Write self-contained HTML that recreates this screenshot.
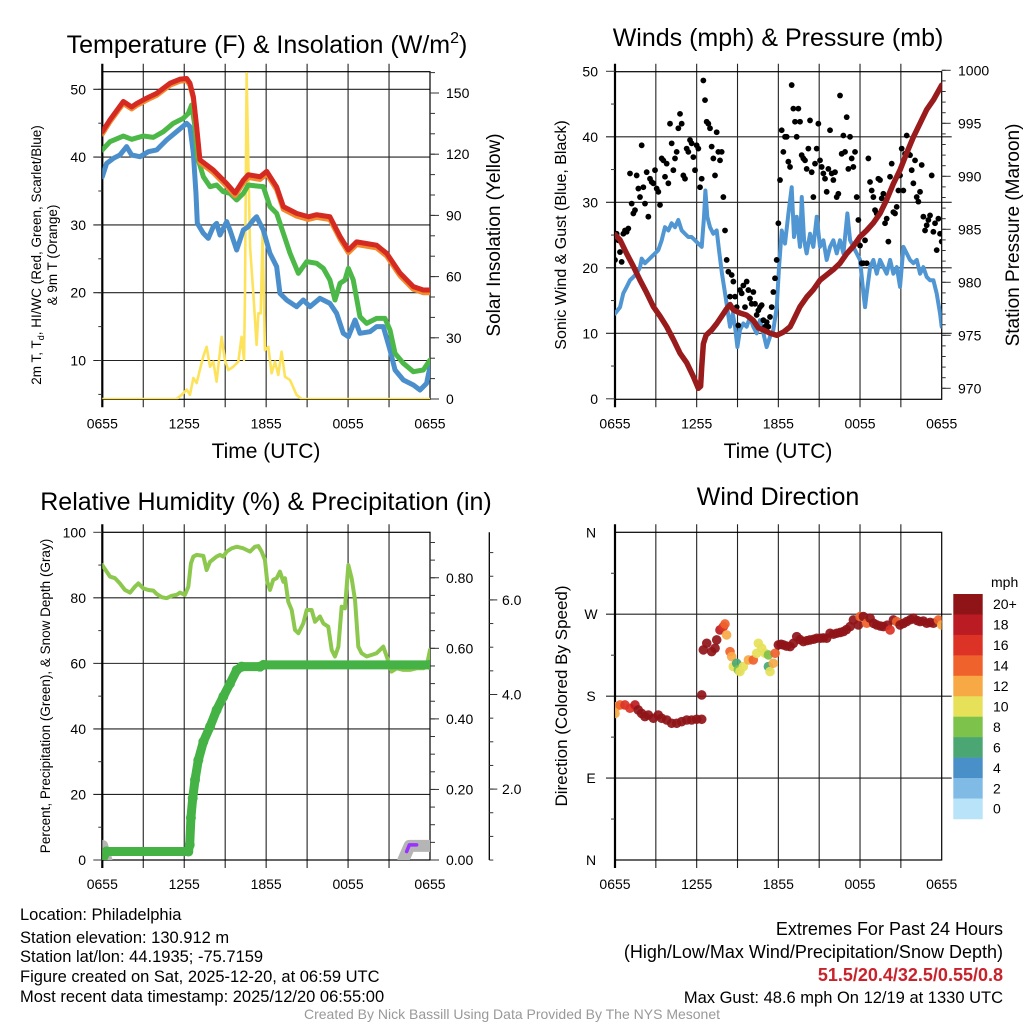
<!DOCTYPE html>
<html><head><meta charset="utf-8"><style>
html,body{margin:0;padding:0;background:#fff;}
svg{display:block;font-family:"Liberation Sans",sans-serif;}
</style></head><body>
<svg id="fig" width="1024" height="1024" viewBox="0 0 1024 1024" xmlns="http://www.w3.org/2000/svg">
<defs>
<clipPath id="c1"><rect x="102.3" y="71.7" width="327.7" height="327.6"/></clipPath>
<clipPath id="c2"><rect x="615" y="71.7" width="326.7" height="327.6"/></clipPath>
<clipPath id="c3"><rect x="102.3" y="532.3" width="327.7" height="327.7"/></clipPath>
<clipPath id="c4"><rect x="615" y="532.3" width="326.7" height="327.7"/></clipPath>
</defs>
<rect x="0" y="0" width="1024" height="1024" fill="#fff"/>
<text x="267" y="53" font-size="25" text-anchor="middle">Temperature (F) &amp; Insolation (W/m<tspan font-size="16" dy="-10">2</tspan><tspan dy="10">)</tspan></text>
<text x="778" y="46" font-size="25" text-anchor="middle">Winds (mph) &amp; Pressure (mb)</text>
<text x="266" y="510" font-size="25" text-anchor="middle">Relative Humidity (%) &amp; Precipitation (in)</text>
<text x="778" y="505" font-size="25" text-anchor="middle">Wind Direction</text>
<text x="266" y="458" font-size="21" text-anchor="middle">Time (UTC)</text>
<text x="778" y="458" font-size="21" text-anchor="middle">Time (UTC)</text>
<text transform="translate(41,255) rotate(-90)" font-size="13.5" text-anchor="middle">2m T, T<tspan font-size="9" dy="3">d</tspan><tspan dy="-3">, HI/WC (Red, Green, Scarlet/Blue)</tspan></text>
<text transform="translate(57,255) rotate(-90)" font-size="13.5" text-anchor="middle">&amp; 9m T (Orange)</text>
<text transform="translate(500,235) rotate(-90)" font-size="19" text-anchor="middle">Solar Insolation (Yellow)</text>
<text transform="translate(566,235) rotate(-90)" font-size="16" text-anchor="middle">Sonic Wind &amp; Gust (Blue, Black)</text>
<text transform="translate(1019,235) rotate(-90)" font-size="19" text-anchor="middle">Station Pressure (Maroon)</text>
<text transform="translate(50,696) rotate(-90)" font-size="13.5" text-anchor="middle">Percent, Precipitation (Green), &amp; Snow Depth (Gray)</text>
<text transform="translate(567,696) rotate(-90)" font-size="17" text-anchor="middle">Direction (Colored By Speed)</text>
<g font-size="16.5">
<text x="20" y="920">Location: Philadelphia</text>
<text x="20" y="943">Station elevation: 130.912 m</text>
<text x="20" y="962">Station lat/lon: 44.1935; -75.7159</text>
<text x="20" y="982">Figure created on Sat, 2025-12-20, at 06:59 UTC</text>
<text x="20" y="1002">Most recent data timestamp: 2025/12/20 06:55:00</text>
</g>
<g text-anchor="end">
<text x="1003" y="935" font-size="18">Extremes For Past 24 Hours</text>
<text x="1003" y="958" font-size="18">(High/Low/Max Wind/Precipitation/Snow Depth)</text>
<text x="1003" y="981" font-size="18" font-weight="bold" fill="#c8232c">51.5/20.4/32.5/0.55/0.8</text>
<text x="1003" y="1003" font-size="16.5">Max Gust: 48.6 mph On 12/19 at 1330 UTC</text>
</g>
<text x="512" y="1019" font-size="14" fill="#999" text-anchor="middle">Created By Nick Bassill Using Data Provided By The NYS Mesonet</text>
<g id="layer"></g>
</svg>
<script>
// ---- data (time in hours since 0655 UTC) ----
const timeLabels = ["0655","1255","1855","0055","0655"];
const tempRed = [[0,43.75],[0.56,45.5],[1.54,48.2],[2.15,47.4],[2.51,47.9],[3.25,48.7],[3.98,49.4],[4.96,50.9],[5.69,51.5],[6.18,51.6],[6.42,50.9],[6.67,48.9],[6.91,44.5],[7.15,39.6],[8.13,38.1],[9.11,36.1],[9.72,34.7],[10.33,36.6],[10.69,37.4],[11.55,37.1],[12.04,37.9],[12.77,35.6],[13.26,32.7],[14.23,31.7],[15.09,31.2],[15.7,31.5],[16.67,31.2],[17.41,28.3],[18.02,26.3],[18.63,27.5],[20.09,27.0],[20.83,25.8],[21.8,22.9],[22.78,20.9],[23.51,20.4],[24,20.4]];
const temp9m = [[0,43.4],[0.56,45.2],[1.54,47.9],[2.15,47.1],[2.51,47.6],[3.25,48.4],[3.98,49.1],[4.96,50.6],[5.69,51.2],[6.18,51.3],[6.42,50.6],[6.67,48.6],[6.91,44.2],[7.15,39.2],[8.13,37.7],[9.11,35.7],[9.72,34.3],[10.33,36.2],[10.69,37.0],[11.55,36.7],[12.04,37.5],[12.77,35.2],[13.26,32.3],[14.23,31.3],[15.09,30.8],[15.7,31.1],[16.67,30.8],[17.41,27.9],[18.02,25.9],[18.63,27.1],[20.09,26.6],[20.83,25.4],[21.8,22.5],[22.78,20.5],[23.51,20.0],[24,20.0]];
const tempGreen = [[0,41.05],[0.56,42.28],[1.54,43.11],[2.15,42.62],[3.0,43.11],[3.74,42.91],[4.47,43.75],[5.2,44.98],[5.93,45.72],[6.3,46.45],[6.54,47.68],[6.79,44.49],[6.96,40.06],[7.4,37.11],[7.89,35.64],[8.37,35.88],[8.86,34.9],[9.35,34.65],[9.84,33.67],[10.33,34.65],[10.69,35.88],[11.3,35.74],[11.79,35.64],[12.28,32.69],[12.77,31.7],[13.26,28.76],[13.75,25.81],[14.36,22.86],[14.97,24.58],[15.7,24.33],[16.19,23.59],[16.67,21.87],[17.04,18.92],[17.41,21.38],[17.77,21.87],[18.02,23.59],[18.38,21.87],[18.87,16.46],[19.36,15.48],[20.09,16.22],[20.7,16.22],[21.07,14.5],[21.44,11.06],[22.05,9.58],[22.78,8.35],[23.51,8.6],[24,10.07]];
const tempBlue = [[0,37.11],[0.32,39.08],[0.81,39.82],[1.29,40.31],[1.78,41.54],[2.15,40.31],[2.76,40.06],[3.37,40.8],[3.98,41.05],[4.71,42.52],[5.44,43.75],[6.18,44.98],[6.42,44.49],[6.67,40.55],[6.86,34.65],[6.96,30.23],[7.4,28.76],[7.76,28.02],[8.13,29.74],[8.37,30.23],[8.62,28.51],[9.11,30.48],[9.35,29.25],[9.84,26.3],[10.33,29.25],[10.69,29.74],[11.06,30.72],[11.3,31.21],[11.79,29.25],[12.28,25.8],[12.77,23.84],[13.01,19.9],[13.5,18.92],[14.23,17.94],[14.72,18.92],[15.21,17.94],[15.94,19.17],[16.67,18.43],[17.16,16.96],[17.65,14.01],[18.02,13.51],[18.51,15.97],[18.87,14.01],[19.6,14.25],[20.09,14.99],[20.58,14.99],[21.07,11.55],[21.44,8.6],[22.05,7.12],[22.78,6.39],[23.27,5.65],[23.75,6.63],[24,9.09]];
const solar = [[0,0],[5.44,0],[5.81,2],[6.18,4.6],[6.42,2],[6.67,10.3],[6.91,7.8],[7.15,14.4],[7.4,21],[7.64,25.6],[7.89,15.8],[8.13,18.3],[8.37,8.5],[8.74,30.5],[8.98,19.1],[9.23,14.2],[9.59,15.8],[9.96,18.3],[10.2,30.5],[10.38,19.1],[10.45,51.8],[10.57,159.6],[10.69,117],[10.82,74.7],[11.06,51.8],[11.3,26.5],[11.43,42],[11.6,42],[11.74,82],[11.91,24],[12.16,25.6],[12.4,12.6],[12.65,18.3],[12.89,11.8],[13.13,23.2],[13.38,10.9],[13.75,9.3],[14.23,2],[14.6,0],[24,0]];
const windSpeed = [[0,13.0],[0.37,14.0],[0.61,16.1],[0.86,17.1],[1.10,18.1],[1.35,18.6],[1.59,19.1],[1.84,20.1],[1.96,21.4],[2.20,20.7],[2.45,21.2],[2.69,21.7],[2.94,22.2],[3.18,22.7],[3.43,24.2],[3.67,26.2],[3.92,25.7],[4.16,26.8],[4.41,26.2],[4.65,27.3],[4.90,25.7],[5.14,25.2],[5.39,24.7],[5.63,24.7],[5.88,24.2],[6.12,23.7],[6.37,23.2],[6.54,27.8],[6.64,31.8],[6.78,27.8],[6.98,26.2],[7.22,25.2],[7.47,25.7],[7.67,22.2],[7.86,19.1],[8.01,17.1],[8.20,14.5],[8.45,11.0],[8.65,13.0],[8.82,11.0],[8.99,7.9],[9.18,10.5],[9.43,11.5],[9.67,11.0],[9.92,12.5],[10.16,11.0],[10.41,10.0],[10.65,12.0],[10.90,10.0],[11.14,7.9],[11.39,9.5],[11.63,10.5],[11.88,14.0],[12.05,20.1],[12.25,25.7],[12.49,23.7],[12.74,28.3],[12.98,32.3],[13.15,24.7],[13.35,27.8],[13.59,23.2],[13.72,30.8],[13.89,24.2],[14.08,22.2],[14.33,25.2],[14.57,23.2],[14.82,27.8],[15.06,23.2],[15.31,24.2],[15.55,21.2],[15.80,23.2],[16.04,24.2],[16.29,22.2],[16.53,24.2],[16.78,22.2],[17.07,28.3],[17.27,24.2],[17.51,23.2],[17.76,22.2],[18.0,21.2],[18.25,16.1],[18.37,14.0],[18.49,16.1],[18.74,20.1],[18.98,21.2],[19.23,19.1],[19.47,21.2],[19.72,20.1],[19.96,19.1],[20.21,21.2],[20.45,19.1],[20.70,20.1],[20.94,17.1],[21.19,23.2],[21.43,22.2],[21.67,21.2],[21.92,20.7],[22.17,21.2],[22.41,19.1],[22.65,20.1],[22.90,18.6],[23.14,18.1],[23.39,18.1],[23.63,16.1],[23.88,13.0],[24.0,11.0]];
const gustValues = [21.2,25.2,24.2,22.4,20.9,25.2,25.7,25.5,26.0,34.4,29.8,28.3,28.8,34.1,32.1,30.8,38.7,32.3,29.8,34.6,27.8,33.6,33.1,32.9,34.9,32.1,31.6,29.6,36.7,36.4,33.9,35.9,32.9,42.0,39.0,34.9,36.7,37.7,41.3,43.5,42.0,34.1,33.6,38.2,37.7,39.5,39.0,36.9,34.9,38.7,38.2,32.3,33.6,48.6,45.6,42.3,42.0,41.3,38.5,36.7,34.1,40.7,37.7,36.4,37.7,30.8,25.7,21.2,19.4,15.6,18.9,17.9,15.6,14.0,11.2,16.6,16.1,17.3,14.0,17.9,16.6,15.3,14.5,16.3,14.5,12.8,13.5,14.0,14.3,12.0,11.0,11.7,11.0,12.5,14.0,16.3,18.4,21.2,26.8,33.4,41.0,37.7,40.0,40.0,36.2,35.4,47.9,44.3,42.3,40.0,44.3,42.3,37.2,36.7,36.4,35.1,38.2,42.5,34.6,30.8,35.9,38.2,42.0,36.4,35.4,34.4,33.6,31.6,35.1,41.0,34.4,33.4,34.6,30.8,31.3,46.3,37.4,40.2,37.7,43.0,35.1,40.0,36.7,35.4,37.7,30.8,27.3,23.4,20.7,20.7,24.2,20.7,36.7,33.1,31.8,30.8,28.8,28.3,33.6,33.4,30.6,31.3,26.8,27.5,24.0,33.9,35.9,28.5,28.3,29.3,31.8,34.1,38.2,31.8,37.4,40.2,37.4,37.2,34.9,32.9,36.4,30.8,30.1,31.6,35.7,27.8,25.7,26.5,27.3,28.0,34.1,25.5,26.8,22.7,27.5,25.2,24.0];
const pressure = [[0,984.5],[0.37,984.0],[0.86,982.7],[1.35,981.5],[1.84,980.2],[2.33,979.0],[2.82,977.7],[3.31,976.8],[3.80,975.8],[4.29,974.6],[4.78,973.3],[5.27,972.4],[5.76,971.1],[6.12,970.0],[6.29,970.2],[6.37,972.0],[6.49,974.2],[6.69,975.0],[7.10,975.5],[7.47,976.1],[7.84,976.8],[8.20,977.5],[8.45,977.9],[8.69,977.4],[9.18,977.1],[9.67,976.9],[10.16,976.4],[10.53,975.7],[10.90,975.5],[11.39,975.2],[11.88,975.0],[12.37,975.3],[12.86,975.8],[13.10,976.4],[13.59,977.7],[14.08,978.6],[14.57,979.3],[15.06,980.2],[15.55,980.7],[16.04,981.2],[16.53,981.8],[17.02,982.7],[17.51,983.4],[18.0,984.3],[18.49,984.9],[18.98,985.6],[19.47,986.5],[19.96,987.8],[20.45,989.3],[20.94,990.6],[21.43,992.2],[21.92,993.7],[22.41,995.0],[22.90,996.3],[23.39,997.2],[24.0,998.6]];
const relHum = [[0,90.0],[0.32,88.0],[0.56,86.5],[0.93,86.0],[1.29,84.4],[1.66,82.4],[2.03,81.6],[2.39,83.4],[2.64,84.4],[3.0,82.9],[3.37,82.4],[3.74,82.2],[3.98,81.2],[4.35,80.2],[4.71,79.9],[5.08,80.6],[5.44,80.9],[5.69,81.6],[6.05,80.9],[6.30,83.4],[6.49,90.5],[6.67,92.6],[6.91,93.1],[7.40,92.8],[7.64,88.5],[7.89,91.0],[8.37,92.6],[8.62,93.1],[8.86,92.6],[9.11,94.1],[9.47,95.1],[9.84,95.6],[10.33,95.1],[10.82,94.1],[11.18,95.6],[11.43,95.8],[11.67,94.1],[11.91,91.6],[12.08,84.9],[12.28,82.4],[12.52,85.5],[12.77,86.0],[13.01,88.0],[13.26,84.9],[13.38,86.0],[13.62,78.8],[13.87,76.3],[14.11,70.2],[14.36,69.2],[14.72,72.2],[14.97,76.3],[15.33,76.3],[15.58,72.7],[15.94,74.3],[16.19,72.2],[16.55,71.2],[16.80,64.1],[17.04,62.1],[17.29,65.1],[17.53,77.3],[17.77,76.8],[18.02,90.0],[18.26,86.0],[18.51,79.3],[18.75,65.1],[18.99,63.1],[19.36,62.1],[19.73,62.6],[20.09,63.1],[20.58,65.1],[20.83,62.1],[21.19,57.5],[21.56,58.5],[22.05,58.0],[22.53,58.0],[23.02,58.5],[23.51,58.5],[23.75,59.0],[24.0,64.1]];
const precip = [[0,0.0],[0.3,0.024],[6.3,0.024],[6.4,0.043],[6.49,0.12],[6.62,0.175],[6.79,0.227],[7.03,0.283],[7.4,0.335],[7.89,0.378],[8.37,0.425],[8.86,0.463],[9.35,0.50],[9.84,0.538],[10.2,0.548],[11.55,0.548],[11.8,0.553],[24,0.553]];
const snowStart = [[0,0.8],[0.3,0.5]];
const snowEnd = [[22.05,0.5],[22.5,0.8],[24,0.8]];
const purpleTrace = [[22.29,0.024],[22.49,0.043],[23.02,0.043]];
const dirTimes = [0,0.12,0.37,0.73,1.10,1.47,1.71,1.96,2.20,2.45,2.82,3.18,3.43,3.80,4.16,4.53,4.90,5.27,5.63,6.0,6.37,6.37,6.49,6.74,7.10,7.35,7.47,7.71,7.96,8.08,8.20,8.45,8.57,8.69,8.94,9.06,9.18,9.43,9.80,10.16,10.41,10.53,10.78,11.02,11.27,11.27,11.39,11.63,11.76,12.0,12.2,12.37,12.6,12.86,13.1,13.35,13.6,13.84,14.1,14.33,14.6,14.82,15.1,15.31,15.55,15.80,16.05,16.29,16.55,16.78,17.0,17.27,17.51,17.88,18.0,18.25,18.49,18.74,19.0,19.23,19.5,19.72,20.0,20.21,20.45,20.70,20.94,21.2,21.43,21.7,21.92,22.2,22.41,22.65,22.90,23.15,23.39,23.76,24.0];
const dirDegrees = [161,168.5,170.3,170.3,166.7,170.3,164.8,161,157.5,159.3,155.7,159.3,155.7,153.8,150.2,150.2,152,153.8,153.8,154.6,154.6,181.3,230.8,238.1,228.9,232.6,241.8,252.7,256.4,259.3,247.3,228.9,223.4,212.5,216.1,208.8,207,212.5,219.8,219.8,227.1,238.1,232.6,227.1,225.3,212.5,207,216.1,227.1,236.3,237,236.3,235,234.4,238,245.4,242,239.9,241,241.8,242.5,243.6,243.6,244,243.6,249.1,248,249.1,250,250.9,253,256.4,263.7,258.2,267.4,267.4,260.1,265.6,260,258.2,257,256.4,258,252.7,263.7,261.9,258.2,260,261.9,264,265.6,263,261.9,262.5,260.1,261,260.1,263.7,258.2];
const dirSpeeds = [13,13,15,17,17,19,22,22,22,22,22,22,22,22,22,22,22,22,22,22,22,22,22,22,22,22,22,19,17,15,13,15,13,11,7,9,11,11,13,15,11,11,11,11,9,7,11,13,15,22,22,22,22,22,22,22,22,22,22,22,22,22,22,22,22,22,22,22,22,22,22,22,22,22,15,22,15,22,22,22,22,22,22,17,22,15,22,22,22,22,22,22,22,22,22,22,22,15,13];
const cbLabels = ["20+","18","16","14","12","10","8","6","4","2","0"];
const cbColors = ["#8f1418","#bb1b22","#dc3326","#f0622b","#f7a946","#e6e159","#7dc24b","#4aa773","#4a90c8","#7fbbe5","#b8e3f8"];

// ---- axis functions ----
const P1={l:102.3,r:430,t:71.7,b:399.3};
const P2={l:615,r:941.7,t:71.7,b:399.3};
const P3={l:102.3,r:430,t:532.3,b:860};
const P4={l:615,r:941.7,t:532.3,b:860};
const xa=P=>t=>P.l+t*(P.r-P.l)/24;
const x1=xa(P1),x2=xa(P2),x3=xa(P3),x4=xa(P4);
const yT=v=>89.3+(50-v)*6.78;
const yS=w=>399-w*2.04;
const yW=v=>398.8-v*6.55;
const yP=m=>388.3-(m-970)*10.6;
const yRH=r=>860-r*3.277;
const yPr=p=>860-p*352.8;
const ySn=s=>883.7-s*47.3;
const yD=d=>860-d*327.7/360;

const NS="http://www.w3.org/2000/svg";
const layer=document.getElementById('layer');
function mk(tag,attrs,parent){const e=document.createElementNS(NS,tag);for(const k in attrs)e.setAttribute(k,attrs[k]);(parent||layer).appendChild(e);return e;}
function pathOf(data,fx,fy){return data.map((d,i)=>(i?'L':'M')+fx(d[0]).toFixed(2)+','+fy(d[1]).toFixed(2)).join('');}
function speedColor(s){let i=Math.floor(s/2);if(i>10)i=10;return cbColors[10-i];}

// ---- grids & frames ----
function frame(P,name,hgrid){
  const g=mk('g',{});
  
  
  for(let k=1;k<8;k++){const x=P.l+k*(P.r-P.l)/8;
    const ln=mk('line',{x1:x,y1:P.t-8,x2:x,y2:P.b+8,stroke:'#222','stroke-width':1.1},g);
    
    }
  hgrid.forEach(y=>{const ln=mk('line',{x1:P.l-9,y1:y,x2:P.r+(name==='wind'||name==='direction'?10:0),y2:y,stroke:'#222','stroke-width':1.1},g);
    
    });
  const bx=mk('rect',{x:P.l,y:P.t,width:P.r-P.l,height:P.b-P.t,fill:'none',stroke:'#000','stroke-width':1.2},g);
  
  
  const la=mk('line',{x1:P.l,y1:P.t-8,x2:P.l,y2:P.b+8,stroke:'#000','stroke-width':2.2},g);
  
  
  timeLabels.forEach((lb,i)=>{const t=mk('text',{x:P.l+i*(P.r-P.l)/4,y:P.b+29,'font-size':14,'text-anchor':'middle'},g);t.textContent=lb;
    
    });
}
function ticks(x,dir,vals,fy,len,labels,fmt,name,lx){
  vals.forEach(v=>{const y=fy(v);const l=mk('line',{x1:x,y1:y,x2:x+dir*len,y2:y,stroke:'#333','stroke-width':1});
    
    });
  labels.forEach(v=>{const t=mk('text',{x:lx,y:fy(v)+5,'font-size':14,'text-anchor':dir<0?'end':'start'});t.textContent=fmt(v);
    
    });
}
frame(P1,'temp',[10,20,30,40,50].map(yT));
frame(P2,'wind',[10,20,30,40].map(yW));
frame(P3,'humidity',[20,40,60,80].map(yRH));
frame(P4,'direction',[90,180,270].map(yD));
const r5=(a,b,s)=>{const o=[];for(let v=a;v<=b+1e-9;v+=s)o.push(+v.toFixed(3));return o;};
ticks(P1.l,-1,r5(5,50,5),yT,4,[],String,'temp-left-minor',0);
ticks(P1.l,-1,[],yT,0,[10,20,30,40,50],String,'temp-left',86);
ticks(P1.r,1,r5(0,160,10),yS,5,[],String,'solar-minor',0);
ticks(P1.r,1,r5(0,150,30),yS,9,[0,30,60,90,120,150],String,'solar',446);
ticks(P2.l,-1,r5(5,45,10),yW,4,[],String,'wind-minor',0);
ticks(P2.l,-1,[0,50],yW,9,[0,10,20,30,40,50],String,'wind-left',598);
ticks(P2.r,1,r5(970,1000,1),yP,4,[],String,'pressure-minor',0);
ticks(P2.r,1,r5(970,1000,5),yP,9,r5(970,1000,5),String,'pressure',958);
ticks(P3.l,-1,r5(10,90,20),yRH,4,[],String,'humidity-minor',0);
ticks(P3.l,-1,[0,100],yRH,9,[0,20,40,60,80,100],String,'humidity-left',86);
ticks(P3.r,1,r5(0,0.9,0.05),yPr,5,[],String,'precip-minor',0);
ticks(P3.r,1,r5(0,0.8,0.2),yPr,9,r5(0,0.8,0.2),v=>v.toFixed(2),'precip',446);
const sa=mk('line',{x1:489.3,y1:532.3,x2:489.3,y2:860,stroke:'#000','stroke-width':1.3});


ticks(489.3,1,r5(0.5,7,0.5),ySn,4,[],String,'snow-minor',0);
ticks(489.3,1,[2,4,6],ySn,8,[2,4,6],v=>v.toFixed(1),'snow',502);
ticks(P4.l,-1,[45,135,225,315],yD,4,[],String,'direction-minor',0);
[[0,'N'],[90,'E'],[180,'S'],[270,'W'],[360,'N']].forEach(([d,l])=>{const t=mk('text',{x:591,y:yD(d)+5,'font-size':14,'text-anchor':'middle'});t.textContent=l;
  
  });

// ---- series ----
function series(data,fx,fy,color,w,clip,name){const p=mk('path',{d:pathOf(data,fx,fy),fill:'none',stroke:color,'stroke-width':w,'stroke-linejoin':'round','stroke-linecap':'round','clip-path':'url(#'+clip+')'});
  
  return p;}
series(solar,x1,yS,'#fde35c',2.6,'c1','solar-insolation-line');
series(tempBlue,x1,yT,'#4a8fcc',5,'c1','dewpoint-line');
series(tempGreen,x1,yT,'#4cb848',5,'c1','heat-index-line');
series(temp9m,x1,yT,'#f28a30',5,'c1','temp-9m-line');
series(tempRed,x1,yT,'#d42a22',5,'c1','temp-2m-line');

series(windSpeed,x2,yW,'#4f96d3',4,'c2','wind-speed-line');
gustValues.forEach((g,i)=>{const t=i*24/(gustValues.length-1);
  const c=mk('circle',{cx:x2(t),cy:yW(g),r:2.9,fill:'#000','clip-path':'url(#c2)'});
  
  });
series(pressure,x2,yP,'#991b1b',5.5,'c2','pressure-line');

series(snowStart,x3,ySn,'#b5b5b5',12,'c3','snow-depth-start');
series(snowEnd,x3,ySn,'#b5b5b5',12,'c3','snow-depth-end');
series(relHum,x3,yRH,'#8dc84e',4,'c3','relative-humidity-line');
series(precip,x3,yPr,'#44b244',9,'c3','precipitation-line');
precip.forEach(d=>{const c=mk('circle',{cx:x3(d[0]),cy:yPr(d[1]),r:5,fill:'#44b244','clip-path':'url(#c3)'});
  
  });
series(purpleTrace,x3,yPr,'#9b30ff',3.5,'c3','purple-trace');

dirTimes.forEach((t,i)=>{const c=mk('circle',{cx:x4(t),cy:yD(dirDegrees[i]),r:4.8,fill:speedColor(dirSpeeds[i]),'fill-opacity':0.92,'clip-path':'url(#c4)'});
  
  });

// ---- colorbar ----
const cbT=594,cbH=20.45;
cbColors.forEach((col,i)=>{const r=mk('rect',{x:953.3,y:cbT+i*cbH,width:29.4,height:cbH+0.3,fill:col});
  
  });
cbLabels.forEach((lb,i)=>{const t=mk('text',{x:993,y:cbT+i*cbH+cbH/2+5,'font-size':14});t.textContent=lb;
  
  });
const mph=mk('text',{x:991,y:587,'font-size':14});mph.textContent='mph';


</script>
</body></html>
